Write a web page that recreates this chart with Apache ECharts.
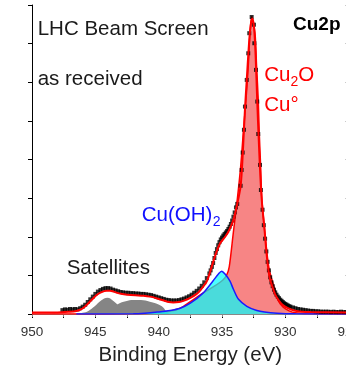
<!DOCTYPE html>
<html><head><meta charset="utf-8">
<script src="https://cdn.jsdelivr.net/npm/echarts@6/dist/echarts.min.js"></script>
<style>html,body{margin:0;padding:0;background:#fff}#c{width:346px;height:371px}</style>
</head><body><div id="c"></div>
<script>
// Binding energy axis (eV), reversed
const xTickLabels = [950, 945, 940, 935, 930, 925];

// Measured spectrum [binding energy, intensity]
const measured = [
 [947.6,0.10],[947.4,0.12],[947.2,0.11],[947.0,0.13],[946.8,0.12],[946.6,0.13],[946.4,0.12],[946.2,0.15],
 [946.0,0.19],[945.8,0.24],[945.6,0.31],[945.4,0.38],[945.2,0.45],[945.0,0.52],[944.8,0.58],[944.6,0.62],
 [944.4,0.65],[944.2,0.67],[944.0,0.67],[943.8,0.66],[943.6,0.63],[943.4,0.61],[943.2,0.59],[943.0,0.57],
 [942.8,0.56],[942.6,0.55],[942.4,0.55],[942.2,0.54],[942.0,0.54],[941.8,0.53],[941.6,0.53],[941.4,0.52],
 [941.2,0.52],[941.0,0.51],[940.8,0.50],[940.6,0.49],[940.4,0.47],[940.2,0.45],[940.0,0.43],[939.8,0.41],
 [939.6,0.39],[939.4,0.37],[939.2,0.36],[939.0,0.35],[938.8,0.35],[938.6,0.35],[938.4,0.36],[938.2,0.38],
 [938.0,0.40],[937.8,0.43],[937.6,0.46],[937.4,0.50],[937.2,0.55],[937.0,0.60],[936.8,0.66],[936.6,0.73],
 [936.4,0.82],[936.2,0.93],[936.0,1.05],[935.9,1.13],[935.8,1.22],[935.7,1.32],[935.6,1.45],[935.5,1.58],
 [935.4,1.68],[935.3,1.78],[935.2,1.86],[935.1,1.93],[935.0,1.98],[934.9,2.03],[934.8,2.07],[934.7,2.11],
 [934.6,2.15],[934.5,2.20],[934.4,2.26],[934.3,2.33],[934.2,2.42],[934.1,2.52],[934.0,2.63],[933.9,2.76],
 [933.8,2.85],[933.53,3.32],[933.45,3.73],[933.37,4.18],[933.27,4.77],[933.19,5.37],[933.05,6.06],
 [932.93,6.75],[932.85,7.27],[932.66,7.69],[932.48,7.49],[932.45,7.01],[932.32,6.32],[932.22,5.50],
 [932.14,4.66],[932.0,3.86],[931.93,3.21],[931.8,2.70],[931.7,2.30],[931.6,1.95],[931.5,1.62],[931.4,1.35],
 [931.3,1.13],[931.2,0.95],[931.1,0.82],[931.0,0.72],[930.9,0.63],[930.8,0.56],[930.7,0.50],[930.6,0.45],
 [930.5,0.41],[930.4,0.37],[930.3,0.34],[930.2,0.31],[930.1,0.28],[930.0,0.26],[929.9,0.24],[929.8,0.22],
 [929.7,0.20],[929.6,0.19],[929.4,0.17],[929.2,0.15],[929.0,0.13],[928.8,0.12],[928.6,0.11],[928.4,0.10],
 [928.2,0.09],[928.0,0.08],[927.8,0.08],[927.6,0.07],[927.4,0.07],[927.2,0.06],[927.0,0.06],[926.8,0.06],
 [926.6,0.06],[926.4,0.05],[926.2,0.06],[926.0,0.05],[925.8,0.05],[925.6,0.06],[925.4,0.05],[925.2,0.05],[925.0,0.05]
];

// Total fit envelope
const fitEnvelope = [
 [950,0.04],[948,0.04],[947,0.06],[946.5,0.08],[946.2,0.11],[945.9,0.17],[945.55,0.28],[945.25,0.38],
 [944.9,0.49],[944.55,0.56],[944.1,0.60],[943.85,0.60],[943.55,0.58],[943.2,0.54],[942.75,0.51],[942.2,0.49],
 [941.6,0.48],[941.2,0.47],[940.7,0.45],[940.4,0.43],[940.0,0.39],[939.6,0.35],[939.2,0.31],[938.85,0.30],
 [938.4,0.31],[938.05,0.34],[937.5,0.42],[937.0,0.52],[936.7,0.62],[936.2,0.85],[935.95,1.08],[935.55,1.50],
 [935.15,1.83],[934.75,2.00],[934.5,2.13],[934.1,2.44],[933.8,2.85],[933.53,3.32],[933.37,4.10],[933.19,5.30],
 [933.05,6.05],[932.9,6.85],[932.78,7.35],[932.62,7.65],[932.48,7.45],[932.35,6.70],[932.22,5.50],[932.1,4.50],
 [931.98,3.60],[931.85,2.90],[931.65,2.20],[931.45,1.45],[931.25,0.95],[931.0,0.68],[930.8,0.50],[930.5,0.34],
 [930.2,0.23],[929.8,0.15],[929.3,0.09],[928.7,0.06],[928.0,0.05],[925,0.04]
];

// Cu2O / Cu° component
const cu2oCu = [
 [950,0],[941,0.01],[939.5,0.05],[938.3,0.15],[937.5,0.32],[936.6,0.52],[935.7,0.70],[934.93,0.88],
 [934.63,1.01],[934.43,1.22],[934.11,2.10],[933.80,2.95],[933.53,3.81],[933.32,4.69],[933.11,5.54],
 [932.93,6.40],[932.79,7.28],[932.66,7.70],[932.40,7.28],[932.27,6.40],[932.14,5.54],[932.06,4.69],
 [931.95,3.81],[931.85,2.95],[931.61,2.10],[931.30,1.20],[930.82,0.62],[930.58,0.36],[930.19,0.18],
 [929.7,0.08],[929.2,0.03],[928.2,0.01],[925,0]
];

// Cu(OH)2 component
const cuOH2 = [
 [946.5,0],[942,0.005],[941.1,0.02],[940.1,0.05],[939.1,0.09],[938.3,0.15],[937.5,0.28],[936.5,0.54],
 [935.7,0.86],[935.3,1.03],[935.03,1.11],[934.73,1.02],[934.37,0.85],[934.1,0.64],[933.7,0.38],
 [933.04,0.20],[932.25,0.09],[931.65,0.05],[930.65,0.02],[929.2,0.005],[925,0]
];

// Shake-up satellites
const satellite1 = [
 [946.5,0],[946.0,0.03],[945.55,0.08],[945.05,0.20],[944.55,0.35],[944.05,0.42],[943.55,0.33],
 [943.05,0.18],[942.55,0.07],[942.05,0.02],[941.5,0]
];
const satellite2 = [
 [944.8,0],[944.3,0.05],[943.7,0.15],[943.2,0.26],[942.6,0.33],[942.0,0.36],[941.4,0.36],[940.7,0.32],
 [940.1,0.26],[939.64,0.17],[939.4,0.06],[939.2,0.01],[939.0,0]
];

const labels = [
 {t:'LHC Beam Screen', x:37.7, y:29.3, s:20.5, c:'#1a1a1a'},
 {t:'as received', x:37.7, y:79.6, s:20.5, c:'#1a1a1a'},
 {t:'Cu2p', x:293, y:24.8, s:19, c:'#000', w:'bold'},
 {t:'Cu', x:264.3, y:75.3, s:20.5, c:'#ff0000'},
 {t:'2', x:290.5, y:82.5, s:14, c:'#ff0000'},
 {t:'O', x:298.3, y:75.3, s:20.5, c:'#ff0000'},
 {t:'Cu\u00b0', x:264.3, y:105.3, s:20.5, c:'#ff0000'},
 {t:'Cu(OH)', x:141.7, y:215.3, s:20.5, c:'#1010ff'},
 {t:'2', x:212.8, y:222.5, s:14, c:'#1010ff'},
 {t:'Satellites', x:66.7, y:268.6, s:20.5, c:'#1a1a1a'}
];

const FONT = 'Liberation Sans, Arial, sans-serif';
const chart = echarts.init(document.getElementById('c'), null, {renderer:'canvas'});
const axisCommon = {type:'value', min:925, max:950, inverse:true, interval:2.5, splitLine:{show:false}};
chart.setOption({
 animation:false,
 backgroundColor:'#fff',
 grid:{left:32, top:5, width:316.7, height:309, containLabel:false, outerBoundsMode:'none'},
 xAxis:[
  Object.assign({}, axisCommon, {position:'bottom',
   axisLine:{lineStyle:{color:'#000', width:1}},
   axisTick:{length:4, lineStyle:{color:'#000'}},
   axisLabel:{margin:11, fontSize:13.5, fontFamily:FONT, color:'#333', hideOverlap:false,
     formatter:v => xTickLabels.indexOf(v) >= 0 ? String(v) : ''},
   name:'Binding Energy (eV)', nameLocation:'middle', nameGap:31,
   nameTextStyle:{fontSize:20.5, fontFamily:FONT, color:'#222'}}),
  Object.assign({}, axisCommon, {position:'top',
   axisLine:{lineStyle:{color:'#888', width:1}},
   axisTick:{inside:true, length:3, lineStyle:{color:'#888'}},
   axisLabel:{show:false}})
 ],
 yAxis:[
  {type:'value', min:0, max:8, interval:1, position:'left', splitLine:{show:false},
   axisLine:{show:true, lineStyle:{color:'#000'}}, axisTick:{show:true, length:4, lineStyle:{color:'#000'}}, axisLabel:{show:false}},
  {type:'value', min:0, max:8, interval:1, position:'right', splitLine:{show:false},
   axisLine:{show:true, lineStyle:{color:'#888'}}, axisTick:{show:true, inside:true, length:3, lineStyle:{color:'#555'}}, axisLabel:{show:false}}
 ],
 graphic: labels.map(l => ({type:'text', x:l.x, y:l.y, z:100,
   style:{text:l.t, fill:l.c, font:(l.w||'normal')+' '+l.s+'px '+FONT, textAlign:'left', textVerticalAlign:'middle', verticalAlign:'middle'}})),
 series:[
  {type:'line', data:cu2oCu, smooth:0.3, showSymbol:false, z:1,
   lineStyle:{color:'#ff0000', width:1.5}, areaStyle:{color:'#f78585', opacity:1}},
  {type:'line', data:satellite2, smooth:0.4, showSymbol:false, z:2,
   lineStyle:{width:0}, areaStyle:{color:'#858585', opacity:1}},
  {type:'line', data:satellite1, smooth:0.4, showSymbol:false, z:2,
   lineStyle:{width:0}, areaStyle:{color:'#858585', opacity:1}},
  {type:'line', data:cuOH2, smooth:0.3, showSymbol:false, z:3,
   lineStyle:{color:'#1a1aff', width:1.5}, areaStyle:{color:'#00ffff', opacity:0.7}},
  {type:'scatter', data:measured, symbol:'rect', symbolSize:4, z:4, itemStyle:{color:'#000'}},
  {type:'line', data:fitEnvelope, smooth:0.3, showSymbol:false, z:5,
   lineStyle:{color:'#ff0000', width:2}}
 ]
});
</script></body></html>
